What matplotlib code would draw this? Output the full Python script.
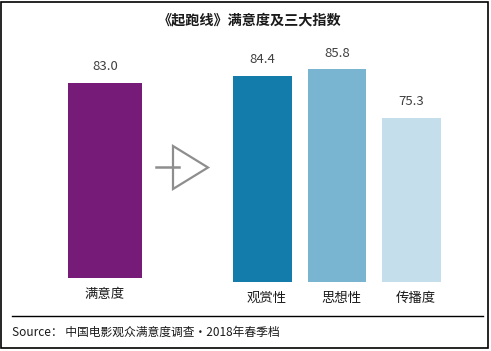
import matplotlib
matplotlib.use("Agg")
import matplotlib.pyplot as plt
from matplotlib.patches import Rectangle, Polygon
from matplotlib.lines import Line2D
from matplotlib.transforms import ScaledTranslation

plt.rcParams['font.family'] = ['Noto Sans CJK SC', 'DejaVu Sans']

title = "《起跑线》满意度及三大指数"
left_cat = ["满意度"]
left_val = [83.0]
right_cats = ["观赏性", "思想性", "传播度"]
right_vals = [84.4, 85.8, 75.3]
left_color = ["#771B78"]
right_colors = ["#137CAA", "#79B5D1", "#C4DEEB"]
source = "Source： 中国电影观众满意度调查·2018年春季档"

W, H = 491, 351
fig = plt.figure(figsize=(W / 100, H / 100), dpi=100)
fig.patch.set_facecolor("white")

scale = 4.64  # px per unit


def add_ax(x0, x1, ybottom, ymin, ymax):
    h = (ymax - ymin) * scale
    return fig.add_axes([x0 / W, (H - ybottom) / H, (x1 - x0) / W, h / H])


ax1 = add_ax(55, 155, 278, 41, 90)
ax2 = add_ax(225.25, 448.75, 282, 40, 90)
ax1.set_ylim(41, 90)
ax2.set_ylim(40, 90)

ax1.bar(range(len(left_val)), left_val, width=0.74, color=left_color)
ax1.set_xlim(-0.5, 0.5)
ax2.bar(range(len(right_vals)), right_vals, width=0.79, color=right_colors)
ax2.set_xlim(-0.5, 2.5)

for ax, cats, vals, dx in [(ax1, left_cat, left_val, 0), (ax2, right_cats, right_vals, 4)]:
    ax.set_xticks(range(len(cats)))
    ax.set_xticklabels(cats, fontsize=9.6, color="#1a1a1a")
    ax.tick_params(axis="x", length=0, pad=6.5)
    for lab in ax.get_xticklabels():
        lab.set_transform(lab.get_transform() + ScaledTranslation(dx / 100, 0, fig.dpi_scale_trans))
    ax.set_yticks([])
    for s in ax.spines.values():
        s.set_visible(False)
    ax.patch.set_alpha(0)
    for i, v in enumerate(vals):
        ax.annotate(f"{v:.1f}", (i, v), xytext=(0, 11.8), textcoords="offset points",
                    ha="center", va="center", fontsize=9.5, color="#404040",
                    annotation_clip=False)

# title
fig.text(249.5 / W, 1 - 20 / H, title, ha="center", va="center",
         fontsize=10.2, fontweight="bold", color="#1a1a1a")

# arrow decoration
gray = "#8e8e8e"
tri = Polygon([[173 / W, 1 - 146 / H], [208 / W, 1 - 167.5 / H], [173 / W, 1 - 189 / H]],
              closed=True, fill=False, edgecolor=gray, linewidth=1.6,
              transform=fig.transFigure)
fig.add_artist(tri)
fig.add_artist(Line2D([156 / W, 179 / W], [1 - 167.5 / H, 1 - 167.5 / H],
                      color=gray, linewidth=1.8, transform=fig.transFigure))

# source line and text
fig.add_artist(Line2D([12 / W, 483 / W], [1 - 316 / H, 1 - 316 / H],
                      color="black", linewidth=1.0, transform=fig.transFigure))
fig.text(12 / W, 1 - 332 / H, source, ha="left", va="center", fontsize=8.5,
         color="#1a1a1a")

# border
fig.add_artist(Rectangle((0.6 / W, 1 - 348 / H), 487.5 / W, 346.5 / H,
                         fill=False, edgecolor="black", linewidth=1.2,
                         transform=fig.transFigure))

fig.savefig("out.png", dpi=100, facecolor="white")
